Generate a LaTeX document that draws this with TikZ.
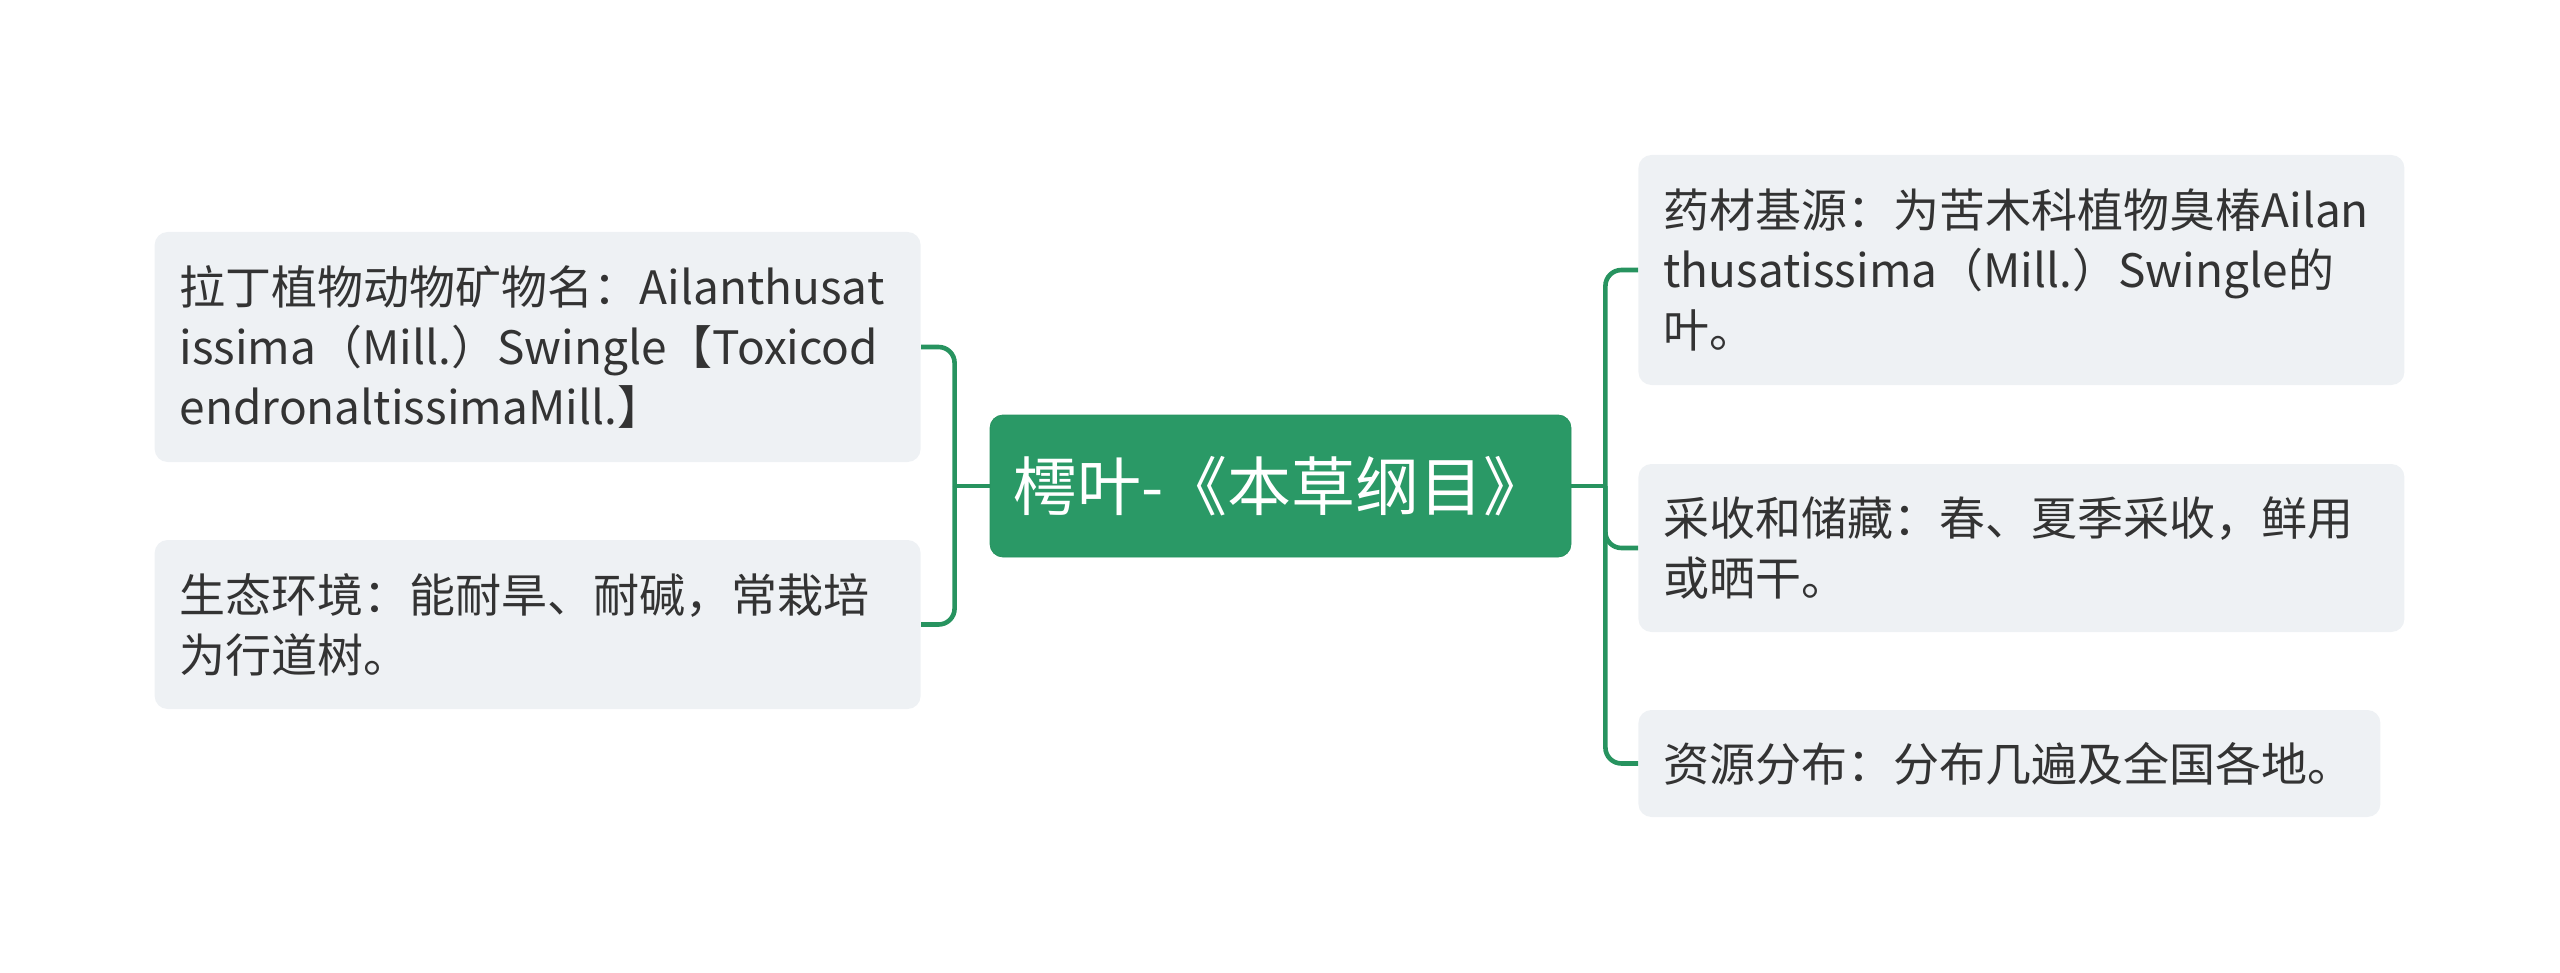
\documentclass[tikz,border=0pt]{standalone}
\usepackage{fontspec}
\newfontfamily\cjk{Noto Sans CJK SC}
\usepackage{xcolor}
\definecolor{rootgreen}{HTML}{2A9966}
\definecolor{linkgreen}{HTML}{27935F}
\definecolor{leafgray}{HTML}{EEF1F4}
\definecolor{inkgray}{HTML}{333333}

\begin{document}
\begin{tikzpicture}[x=0.5pt,y=-0.5pt,
  leaf/.style={fill=leafgray,rounded corners=6.5pt,inner xsep=12.5pt,inner ysep=0pt,
    align=left,text=inkgray,font=\cjk\fontsize{23}{30}\selectfont},
  link/.style={draw=linkgreen,line width=2.3pt}]
\useasboundingbox (0,0) rectangle (2560,973);
\node[fill=rootgreen,draw=linkgreen,rounded corners=6.5pt,minimum width=290.5pt,minimum height=71pt,
  text=white,font=\cjk\fontsize{32}{36}\selectfont] (root) at (1280.5,486) {樗叶-《本草纲目》};
\node[leaf,anchor=east,text width=358pt,minimum height=115pt] (l1) at (921,347)
  {拉丁植物动物矿物名：Ailanthusat\\issima（Mill.）Swingle【Toxicod\\endronaltissimaMill.】};
\node[leaf,anchor=east,text width=358pt,minimum height=84.5pt] (l2) at (921,624.5)
  {生态环境：能耐旱、耐碱，常栽培\\为行道树。};
\node[leaf,anchor=west,text width=358pt,minimum height=115pt] (r1) at (1638,270)
  {药材基源：为苦木科植物臭椿Ailan\\thusatissima（Mill.）Swingle的\\叶。};
\node[leaf,anchor=west,text width=358pt,minimum height=84pt] (r2) at (1638,548)
  {采收和储藏：春、夏季采收，鲜用\\或晒干。};
\node[leaf,anchor=west,text width=346pt,minimum height=53.5pt] (r3) at (1638,763.5)
  {资源分布：分布几遍及全国各地。};
% brackets
\coordinate (lj) at ([xshift=-17.5pt]root.west);
\coordinate (rj) at ([xshift=17pt]root.east);
\draw[link] (root.west) -- (lj);
\draw[link,rounded corners=8pt] (lj) |- (l1.east);
\draw[link,rounded corners=8pt] (lj) |- (l2.east);
\draw[link] (root.east) -- (rj);
\draw[link,rounded corners=8pt] (rj) |- (r1.west);
\draw[link,rounded corners=8pt] (rj) |- (r2.west);
\draw[link,rounded corners=8pt] (rj) |- (r3.west);
\end{tikzpicture}
\end{document}
